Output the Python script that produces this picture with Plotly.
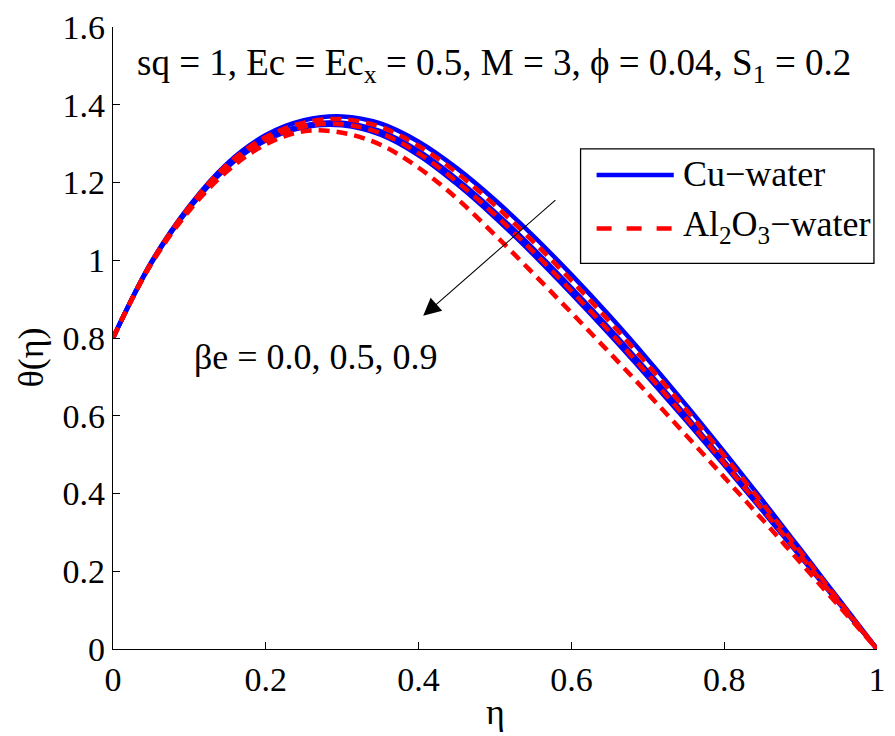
import plotly.graph_objects as go

# Dimensionless coordinate across the channel
eta = [0.00, 0.05, 0.10, 0.15, 0.20, 0.25, 0.30, 0.35, 0.40, 0.45, 0.50,
       0.55, 0.60, 0.65, 0.70, 0.75, 0.80, 0.85, 0.90, 0.95, 1.00]

# Temperature profiles theta(eta), Cu-water, for beta_e = 0.0, 0.5, 0.9
cu_be00 = [0.800, 0.995, 1.140, 1.250, 1.322, 1.360, 1.370, 1.352, 1.305, 1.237, 1.155,
           1.063, 0.963, 0.857, 0.745, 0.628, 0.507, 0.383, 0.256, 0.128, 0.000]
cu_be05 = [0.800, 0.993, 1.136, 1.243, 1.312, 1.347, 1.354, 1.332, 1.281, 1.209, 1.124,
           1.030, 0.929, 0.824, 0.714, 0.600, 0.483, 0.364, 0.243, 0.121, 0.000]
cu_be09 = [0.800, 0.992, 1.134, 1.240, 1.308, 1.342, 1.347, 1.323, 1.270, 1.196, 1.110,
           1.015, 0.914, 0.809, 0.700, 0.588, 0.473, 0.356, 0.237, 0.118, 0.000]

# Temperature profiles theta(eta), Al2O3-water, for beta_e = 0.0, 0.5, 0.9
al_be00 = [0.800, 0.994, 1.138, 1.247, 1.317, 1.354, 1.363, 1.343, 1.294, 1.225, 1.141,
           1.048, 0.948, 0.842, 0.731, 0.616, 0.497, 0.375, 0.250, 0.125, 0.000]
al_be05 = [0.800, 0.993, 1.135, 1.242, 1.310, 1.344, 1.350, 1.327, 1.275, 1.202, 1.117,
           1.022, 0.921, 0.816, 0.707, 0.594, 0.478, 0.360, 0.240, 0.120, 0.000]
al_be09 = [0.800, 0.990, 1.128, 1.230, 1.298, 1.332, 1.328, 1.297, 1.238, 1.159, 1.065,
           0.966, 0.865, 0.762, 0.657, 0.550, 0.442, 0.333, 0.222, 0.111, 0.000]

x_ticks = [0, 0.2, 0.4, 0.6, 0.8, 1]
x_tick_text = ["0", "0.2", "0.4", "0.6", "0.8", "1"]
y_ticks = [0, 0.2, 0.4, 0.6, 0.8, 1.0, 1.2, 1.4, 1.6]
y_tick_text = ["0", "0.2", "0.4", "0.6", "0.8", "1", "1.2", "1.4", "1.6"]

BLUE = "#0000FF"
RED = "#FF0000"
FONT = "Liberation Serif, Times New Roman, serif"
FS = 36       # labels and legend text
FS_CAP = 37   # parameter caption
FS_TICK = 34

fig = go.Figure()

for ys in (cu_be00, cu_be05, cu_be09):
    fig.add_trace(go.Scatter(x=eta, y=ys, mode="lines", line_shape="spline",
                             line=dict(color=BLUE, width=4.5), showlegend=False,
                             hoverinfo="skip"))
for ys in (al_be00, al_be05, al_be09):
    fig.add_trace(go.Scatter(x=eta, y=ys, mode="lines", line_shape="spline",
                             line=dict(color=RED, width=4.5, dash="11px,7px"),
                             showlegend=False, hoverinfo="skip"))

axis_common = dict(showline=True, linecolor="black", linewidth=1.3, mirror=False,
                   showgrid=False, zeroline=False, ticks="inside", ticklen=7,
                   tickwidth=1, tickcolor="black",
                   tickfont=dict(family=FONT, size=FS_TICK, color="black"))

fig.update_layout(
    width=895, height=736,
    margin=dict(l=113, r=9, t=22, b=87),
    paper_bgcolor="white", plot_bgcolor="white",
    font=dict(family=FONT, size=FS, color="black"),
    xaxis=dict(range=[0, 1], tickvals=x_ticks, ticktext=x_tick_text, **axis_common),
    yaxis=dict(range=[0, 1.6], tickvals=y_ticks, ticktext=y_tick_text, **axis_common),
)

# axis titles
fig.add_annotation(text="θ(η)", xref="paper", yref="paper", x=-0.107, y=0.469,
                   textangle=-90, showarrow=False, xanchor="center", yanchor="middle",
                   font=dict(family=FONT, size=FS, color="black"))
fig.add_annotation(text="η", xref="paper", yref="paper", x=0.5, y=-0.102,
                   showarrow=False, xanchor="center", yanchor="middle",
                   font=dict(family=FONT, size=FS, color="black"))

# parameter caption
fig.add_annotation(text="sq = 1, Ec = Ec<sub>x</sub> = 0.5, M = 3, ϕ = 0.04, S<sub>1</sub> = 0.2",
                   xref="paper", yref="paper", x=0.0285, y=0.938, xanchor="left",
                   yanchor="middle", showarrow=False,
                   font=dict(family=FONT, size=FS_CAP, color="black"))

# direction of increasing beta_e
fig.add_annotation(x=0.406, y=0.857, ax=0.581, ay=1.158, xref="x", yref="y",
                   axref="x", ayref="y", text="", showarrow=True,
                   arrowhead=2, arrowsize=3.2, arrowwidth=1.1, arrowcolor="black")
fig.add_annotation(text="βe = 0.0, 0.5, 0.9", xref="paper", yref="paper",
                   x=0.104, y=0.469, xanchor="left", yanchor="middle", showarrow=False,
                   font=dict(family=FONT, size=FS, color="black"))

# legend box
fig.add_shape(type="rect", xref="paper", yref="paper", x0=0.612, x1=0.996,
              y0=0.620, y1=0.804, line=dict(color="black", width=1.3),
              fillcolor="white", layer="above")
fig.add_shape(type="line", xref="paper", yref="paper", x0=0.633, x1=0.734,
              y0=0.762, y1=0.762, line=dict(color=BLUE, width=4.5), layer="above")
fig.add_shape(type="line", xref="paper", yref="paper", x0=0.633, x1=0.734,
              y0=0.676, y1=0.676, line=dict(color=RED, width=4.5, dash="15px,15px"),
              layer="above")
fig.add_annotation(text="Cu−water", xref="paper", yref="paper", x=0.744, y=0.764,
                   xanchor="left", yanchor="middle", showarrow=False,
                   font=dict(family=FONT, size=FS, color="black"))
fig.add_annotation(text="Al<sub>2</sub>O<sub>3</sub>−water", xref="paper", yref="paper",
                   x=0.744, y=0.680, xanchor="left", yanchor="middle", showarrow=False,
                   font=dict(family=FONT, size=FS, color="black"))

fig.write_html("out.html")
